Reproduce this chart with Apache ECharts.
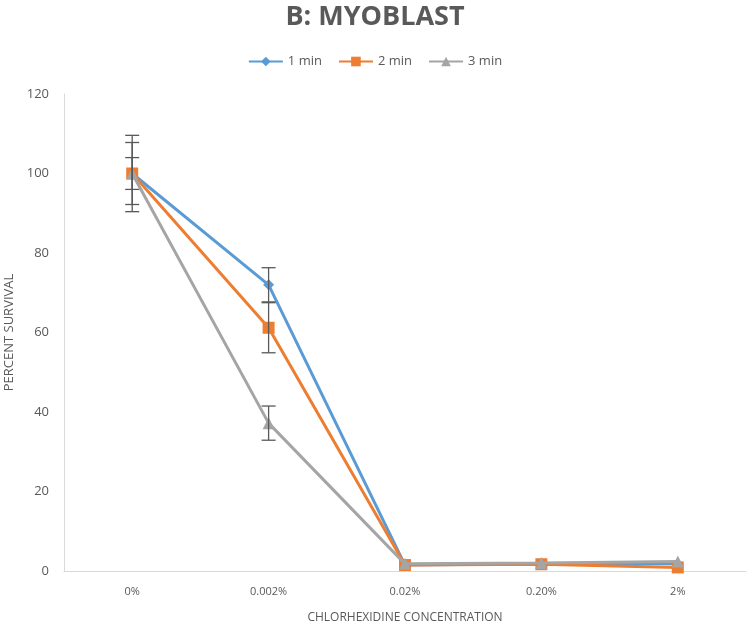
<!DOCTYPE html>
<html><head><meta charset="utf-8">
<script src="https://cdn.jsdelivr.net/npm/echarts@6/dist/echarts.min.js"></script>
<style>html,body{margin:0;padding:0;background:#fff}#c{width:750px;height:623px}</style>
</head><body><div id="c"></div>
<script>
const categories = ['0%', '0.002%', '0.02%', '0.20%', '2%'];
const yTicks = [0, 20, 40, 60, 80, 100, 120];
const min1 = [100, 72, 1.5, 1.8, 1.8];
const min2 = [100, 61.2, 1.5, 1.7, 0.9];
const min3 = [100, 37.2, 1.8, 2.0, 2.4];
const err1 = [4.0, 4.3, 0, 0, 0];
const err2 = [7.8, 6.3, 0, 0, 0];
const err3 = [9.6, 4.3, 0, 0, 0];

const names = ['1 min', '2 min', '3 min'];
const colors = ['#5b9bd5', '#ed7d31', '#a5a5a5'];
const symbols = ['diamond', 'rect', 'triangle'];
const vals = [min1, min2, min3];
const errs = [err1, err2, err3];

const chart = echarts.init(document.getElementById('c'));
const series = [];
vals.forEach((v, i) => {
  series.push({
    name: names[i], type: 'line', data: v,
    symbol: symbols[i], symbolSize: i === 0 ? 11 : 12,
    lineStyle: {color: colors[i], width: 3},
    itemStyle: {color: colors[i]},
    z: 2 + i
  });
});
vals.forEach((v, i) => {
  const data = v.map((y, k) => [k, y - errs[i][k], y + errs[i][k]]).filter((d, k) => errs[i][k] > 0);
  series.push({
    type: 'custom', silent: true, z: 10,
    data: data,
    encode: {x: 0, y: [1, 2]},
    renderItem: function (params, api) {
      const x = api.value(0);
      const lo = api.coord([x, api.value(1)]);
      const hi = api.coord([x, api.value(2)]);
      const w = 7;
      const st = {stroke: '#595959', lineWidth: 1.3};
      return {type: 'group', children: [
        {type: 'line', shape: {x1: lo[0], y1: lo[1], x2: hi[0], y2: hi[1]}, style: st},
        {type: 'line', shape: {x1: lo[0] - w, y1: lo[1], x2: lo[0] + w, y2: lo[1]}, style: st},
        {type: 'line', shape: {x1: hi[0] - w, y1: hi[1], x2: hi[0] + w, y2: hi[1]}, style: st}
      ]};
    }
  });
});

chart.setOption({
  animation: false,
  textStyle: {fontFamily: 'Open Sans'},
  title: {
    text: 'B: MYOBLAST', left: 'center', top: -1,
    textStyle: {fontSize: 27, fontWeight: 'bold', color: '#595959', fontFamily: 'Open Sans'}
  },
  legend: {
    top: 50, left: 'center', itemWidth: 34, itemHeight: 12, itemGap: 16,
    data: names,
    textStyle: {fontSize: 13, color: '#595959'}
  },
  grid: {left: 64, right: 4, top: 94, bottom: 52, containLabel: false, outerBoundsMode: 'none'},
  xAxis: {
    type: 'category', data: categories, boundaryGap: true,
    name: 'CHLORHEXIDINE CONCENTRATION', nameLocation: 'middle', nameGap: 41,
    nameTextStyle: {fontSize: 12, color: '#595959'},
    axisLine: {lineStyle: {color: '#d9d9d9', width: 1}},
    axisTick: {show: false},
    axisLabel: {fontSize: 11, color: '#595959', margin: 15}
  },
  yAxis: {
    type: 'value', min: 0, max: 120, interval: 20,
    name: 'PERCENT SURVIVAL', nameLocation: 'middle', nameGap: 45,
    nameTextStyle: {fontSize: 13, color: '#595959'},
    axisLine: {show: true, lineStyle: {color: '#d9d9d9', width: 1}},
    axisTick: {show: false},
    splitLine: {show: false},
    axisLabel: {fontSize: 13, color: '#595959', margin: 15,
      formatter: v => yTicks.includes(v) ? String(v) : ''}
  },
  series: series
});
</script></body></html>
